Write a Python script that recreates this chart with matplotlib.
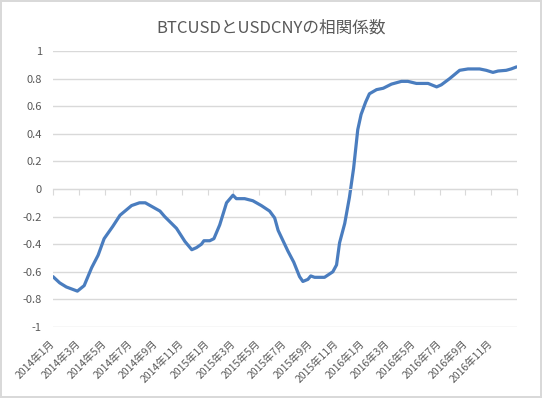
import numpy as np
import pandas as pd
import matplotlib
matplotlib.use('Agg')
import matplotlib.pyplot as plt

plt.rcParams['font.family'] = ['Noto Sans CJK JP', 'DejaVu Sans']

# correlation
dates = ['2014-01-01', '2014-01-17', '2014-02-02', '2014-02-26', '2014-03-14',
         '2014-04-01', '2014-04-16', '2014-04-30', '2014-05-21', '2014-06-07',
         '2014-07-04', '2014-07-23', '2014-08-06', '2014-09-10', '2014-09-21',
         '2014-10-19', '2014-11-08', '2014-11-24', '2014-12-05', '2014-12-17',
         '2014-12-23', '2015-01-06', '2015-01-16', '2015-01-30', '2015-02-14',
         '2015-02-28', '2015-03-08', '2015-03-28', '2015-04-16', '2015-05-06',
         '2015-05-26', '2015-06-07', '2015-06-15', '2015-07-08', '2015-07-22',
         '2015-08-05', '2015-08-13', '2015-08-25', '2015-09-01', '2015-09-10',
         '2015-10-03', '2015-10-23', '2015-11-01', '2015-11-08', '2015-11-20',
         '2015-12-01', '2015-12-11', '2015-12-21', '2015-12-29', '2016-01-09',
         '2016-01-18', '2016-02-04', '2016-02-19', '2016-03-09', '2016-04-02',
         '2016-04-17', '2016-05-07', '2016-06-04', '2016-06-24', '2016-07-05',
         '2016-07-25', '2016-08-18', '2016-09-07', '2016-10-04', '2016-10-20',
         '2016-11-05', '2016-11-17', '2016-12-06', '2016-12-18', '2016-12-31']
corr = [-0.635, -0.68, -0.71, -0.74, -0.70,
        -0.57, -0.48, -0.36, -0.27, -0.19,
        -0.12, -0.10, -0.10, -0.16, -0.20,
        -0.285, -0.38, -0.44, -0.425, -0.40,
        -0.375, -0.375, -0.36, -0.26, -0.10,
        -0.045, -0.07, -0.07, -0.085, -0.12,
        -0.16, -0.21, -0.30, -0.45, -0.53,
        -0.635, -0.67, -0.655, -0.63, -0.64,
        -0.64, -0.60, -0.55, -0.39, -0.25,
        -0.06, 0.15, 0.43, 0.54, 0.63,
        0.69, 0.72, 0.73, 0.76, 0.78,
        0.78, 0.765, 0.765, 0.74, 0.755,
        0.80, 0.86, 0.87, 0.87, 0.86,
        0.845, 0.855, 0.86, 0.87, 0.885]

tick_months = list(range(0, 36, 2))
tick_labels = [f'{2014 + m // 12}年{m % 12 + 1}月' for m in tick_months]
y_ticks = np.round(np.arange(-1, 1.01, 0.2), 1) + 0.0

d = pd.to_datetime(dates)
xpos = (d.year - 2014) * 12 + (d.month - 1) + (d.day - 1) / d.days_in_month

grey = '#d9d9d9'
txt = '#595959'

fig = plt.figure(figsize=(5.42, 3.98), dpi=100, edgecolor=grey, linewidth=1.5)
ax = fig.add_axes([53 / 542, 1 - 327 / 398, 464 / 542, 276 / 398])

ax.plot(xpos, corr, color='#4a7dbf', lw=2.3, solid_capstyle='round')

ax.set_xlim(0, 36)
ax.set_ylim(-1, 1)
ax.set_yticks(y_ticks)
ax.set_yticklabels([f'{v:g}' if abs(v) > 1e-9 else '0' for v in y_ticks])
ax.yaxis.grid(True, color=grey, lw=1)
ax.set_axisbelow(True)
ax.tick_params(axis='y', length=0, pad=8, labelsize=8, labelcolor=txt)

for s in ['left', 'right', 'top']:
    ax.spines[s].set_visible(False)
ax.spines['bottom'].set_position(('data', 0))
ax.spines['bottom'].set_color(grey)
ax.set_xticks(tick_months + [36])
ax.tick_params(axis='x', length=4, color=grey, labelbottom=False)

sec = ax.secondary_xaxis('bottom')
sec.set_xticks(tick_months)
sec.set_xticklabels(tick_labels, rotation=45, ha='right', va='center',
                    rotation_mode='anchor')
sec.tick_params(length=0, pad=11, labelsize=7.5, labelcolor=txt)
sec.spines['bottom'].set_visible(False)

fig.suptitle('BTCUSDとUSDCNYの相関係数', y=0.95, fontsize=12, color=txt)

fig.savefig('out.png', dpi=100, edgecolor=fig.get_edgecolor())
